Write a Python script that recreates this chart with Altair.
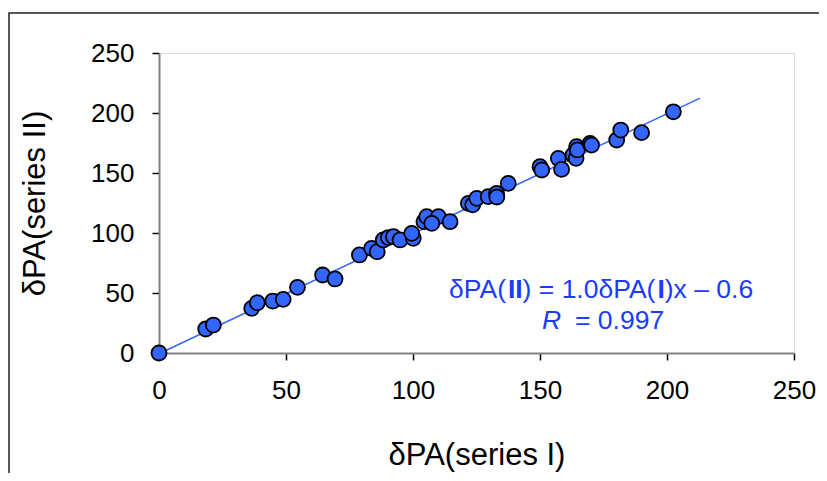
import altair as alt
import pandas as pd

# scatter values (series I on x, series II on y)
series_1 = [0, 18.4, 21.4, 36.5, 38.7, 44.8, 48.9, 54.5, 64.4, 69.3, 78.9, 83.7, 85.9,
            88.3, 90.3, 92.3, 94.9, 100.1, 99.5, 104.3, 105.4, 110.0, 107.4, 114.6,
            121.8, 123.5, 125.1, 129.6, 132.9, 133.0, 137.5, 150.0, 150.7, 157.2, 158.5,
            163.0, 164.2, 164.4, 164.7, 169.7, 170.3, 180.2, 181.8, 190.0, 202.5]
series_2 = [0, 20.0, 23.3, 37.2, 41.9, 43.3, 44.7, 54.7, 65.0, 61.7, 81.7, 87.2, 84.4,
            94.2, 96.2, 96.9, 94.2, 95.6, 99.7, 109.5, 113.6, 113.6, 108.0, 109.4,
            124.7, 123.5, 128.9, 130.3, 133.0, 130.0, 141.4, 155.3, 152.5, 162.2, 153.0,
            165.0, 162.2, 171.9, 169.2, 174.7, 173.3, 177.5, 185.8, 183.6, 201.0]

# fitted line endpoints (dPA(II) = 1.0 dPA(I) - 0.6)
fit_x = [0, 213]
fit_y = [-0.6, 212.4]

axis_ticks = [0, 50, 100, 150, 200, 250]

FONT = "Liberation Sans"
BLUE = "#3366FF"
TEXT_BLUE = "#1A3CFF"

pts = pd.DataFrame({"x": series_1, "y": series_2})
fit = pd.DataFrame({"x": fit_x, "y": fit_y})

xscale = alt.Scale(domain=[0, 250], nice=False, zero=False)
yscale = alt.Scale(domain=[0, 250], nice=False, zero=False)

xaxis = alt.Axis(values=axis_ticks, title="δPA(series I)", grid=False,
                 domainColor="#808080", domainWidth=2, tickColor="black",
                 tickWidth=1.5, tickSize=7, labelFontSize=26, labelFont=FONT,
                 labelColor="black", labelPadding=17, labelFlush=False,
                 titleFont=FONT, titleFontSize=31, titleFontWeight="normal",
                 titleColor="black", titleY=111, titleBaseline="alphabetic")
yaxis = alt.Axis(values=axis_ticks, title="δPA(series II)", grid=False,
                 domainColor="#808080", domainWidth=2, tickColor="black",
                 tickWidth=1.5, tickSize=7, labelFontSize=26, labelFont=FONT,
                 labelColor="black", labelPadding=18, labelFlush=False,
                 titleFont=FONT, titleFontSize=31, titleFontWeight="normal",
                 titleColor="black", titleX=-115, titleY=150, titleAngle=270,
                 titleAlign="center", titleBaseline="alphabetic")

frame = alt.Chart(alt.Data(values=[{"a": 1}])).mark_rect(
    fill=None, stroke="#222222", strokeWidth=1.5, clip=False
).encode(x=alt.value(-150), x2=alt.value(720), y=alt.value(-40), y2=alt.value(450))

line = alt.Chart(fit).mark_line(color=BLUE, strokeWidth=1.5).encode(
    x=alt.X("x:Q", scale=xscale, axis=xaxis),
    y=alt.Y("y:Q", scale=yscale, axis=yaxis),
)

points = alt.Chart(pts).mark_point(
    shape="circle", filled=True, fill=BLUE, stroke="black", strokeWidth=1.8,
    size=225, opacity=1
).encode(x="x:Q", y="y:Q")

def seg(text, x, y, weight="normal", style="normal"):
    return alt.Chart(alt.Data(values=[{"t": text}])).mark_text(
        align="left", baseline="alphabetic", font=FONT, fontSize=26.5,
        fontWeight=weight, fontStyle=style, color=TEXT_BLUE
    ).encode(text="t:N", x=alt.value(x), y=alt.value(y))

eq = [
    seg("δPA(", 290, 245),
    seg("II", 348.9, 245, weight="bold"),
    seg(") = 1.0δPA(", 363.6, 245),
    seg("I", 498.4, 245, weight="bold"),
    seg(")x – 0.6", 505.8, 245),
    seg("R", 383, 276, style="italic"),
    seg("= 0.997", 416, 276),
]

chart = alt.layer(frame, line, points, *eq).properties(
    width=635, height=300,
    autosize=alt.AutoSizeParams(type="none"),
    padding={"left": 151, "top": 45, "right": 25, "bottom": 120},
).configure_view(stroke=None).configure(background="white")

chart.save("out.html", embed_options={"renderer": "svg", "actions": False})
